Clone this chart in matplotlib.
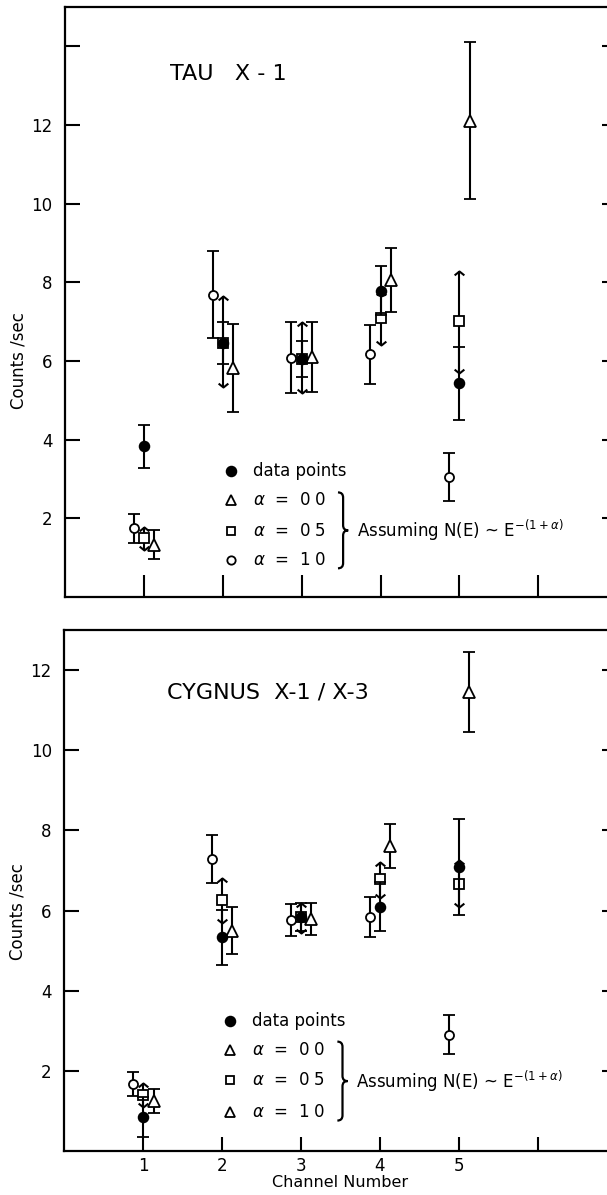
import matplotlib
matplotlib.use('Agg')
import matplotlib.pyplot as plt
from matplotlib.path import Path
from matplotlib.patches import PathPatch
import numpy as np

plt.rcParams['font.family'] = ['DejaVu Sans']

channels = np.array([1, 2, 3, 4, 5])
x_ticks = [1, 2, 3, 4, 5, 6]
x_labels = ['1', '2', '3', '4', '5', '']
y_ticks = [2, 4, 6, 8, 10, 12, 14]
y_labels = ['2', '4', '6', '8', '10', '12', '']

# TAU X-1
tau_data = [3.83, 6.46, 6.05, 7.79, 5.43]
tau_data_err = [0.55, 0.54, 0.45, 0.62, 0.93]
tau_a00 = [1.33, 5.82, 6.10, 8.06, 12.11]
tau_a00_err = [0.37, 1.12, 0.90, 0.82, 2.00]
tau_a05 = [1.49, 6.46, 6.05, 7.10, 7.02]
tau_a05_lo = [1.20, 5.33, 5.19, 6.41, 5.70]
tau_a05_hi = [1.79, 7.65, 7.00, 7.79, 8.28]
tau_a10 = [1.75, 7.69, 6.08, 6.17, 3.05]
tau_a10_err = [0.37, 1.10, 0.90, 0.75, 0.61]

# CYGNUS X-1/X-3
cyg_data = [0.84, 5.33, 5.85, 6.10, 7.09]
cyg_data_err = [0.50, 0.69, 0.35, 0.62, 1.20]
cyg_a00 = [1.25, 5.50, 5.78, 7.61, 11.46]
cyg_a00_err = [0.29, 0.58, 0.40, 0.55, 1.00]
cyg_a05 = [1.40, 6.27, 5.85, 6.78, 6.66]
cyg_a05_lo = [1.11, 5.69, 5.45, 6.32, 6.10]
cyg_a05_hi = [1.69, 6.82, 6.20, 7.20, 7.26]
cyg_a10 = [1.67, 7.28, 5.76, 5.83, 2.90]
cyg_a10_err = [0.30, 0.60, 0.40, 0.50, 0.49]

legend_labels = ['data points', r'$\alpha$  =  0 0', r'$\alpha$  =  0 5', r'$\alpha$  =  1 0']

# open arrow heads for the alpha = 0.5 error bars
up_arrow = [(-1, -0.8), (0, 0), (1, -0.8)]
down_arrow = [(-1, 0.8), (0, 0), (1, 0.8)]


def brace(ax, x, y0, y1, w=0.13):
    ym = (y0 + y1) / 2
    h = 0.13
    verts = [(x, y1), (x + w / 2, y1), (x + w / 2, y1 - h),
             (x + w / 2, ym + h),
             (x + w / 2, ym), (x + w, ym),
             (x + w / 2, ym), (x + w / 2, ym - h),
             (x + w / 2, y0 + h),
             (x + w / 2, y0), (x, y0)]
    codes = [Path.MOVETO, Path.CURVE3, Path.CURVE3, Path.LINETO,
             Path.CURVE3, Path.CURVE3,
             Path.CURVE3, Path.CURVE3, Path.LINETO,
             Path.CURVE3, Path.CURVE3]
    ax.add_patch(PathPatch(Path(verts, codes), fill=False, lw=1.6, color='k'))


def panel(ax, data, data_err, a00, a00_err, a05, a05_lo, a05_hi, a10, a10_err,
          title, title_pos, ytop, leg_y, third_marker):
    eb = dict(color='k', lw=1.5, capsize=4, capthick=1.5, ls='none', mew=1.3)
    ax.errorbar(channels - 0.13, a10, yerr=a10_err, fmt='o', ms=6.5, mfc='white', mec='k', zorder=3, **eb)
    ax.errorbar(channels + 0.13, a00, yerr=a00_err, fmt='^', ms=8.5, mfc='white', mec='k', zorder=3, **eb)
    ax.vlines(channels, a05_lo, a05_hi, color='k', lw=1.5, zorder=2)
    ax.plot(channels, a05_hi, ls='none', marker=up_arrow, ms=7, mfc='none', mec='k', mew=1.5, zorder=2)
    ax.plot(channels, a05_lo, ls='none', marker=down_arrow, ms=7, mfc='none', mec='k', mew=1.5, zorder=2)
    ax.plot(channels, a05, ls='none', marker='s', ms=6.5, mfc='white', mec='k', mew=1.3, zorder=4)
    ax.errorbar(channels, data, yerr=data_err, fmt='o', ms=7, mfc='k', mec='k', zorder=5, **eb)

    ax.text(title_pos[0], title_pos[1], title, fontsize=16, va='center', ha='left')

    # legend drawn by hand, as in the original figure
    markers = [('o', 'k', 7), ('^', 'white', 7.5), ('s', 'white', 6), (third_marker, 'white', 6 if third_marker == 'o' else 7.5)]
    for (m, fc, s), lab, y in zip(markers, legend_labels, leg_y):
        ax.plot([2.1], [y], ls='none', marker=m, ms=s, mfc=fc, mec='k', mew=1.3)
        ax.text(2.38, y, lab, fontsize=12, va='center', ha='left')
    brace(ax, 3.46, leg_y[3] - 0.22, leg_y[1] + 0.2)
    ax.text(3.70, (leg_y[1] + leg_y[3]) / 2 - 0.02, r'Assuming N(E) ~ E$^{-(1+\alpha)}$',
            fontsize=12, va='center', ha='left')

    ax.set_xlim(0, 7)
    ax.set_ylim(0, ytop)
    ax.set_yticks([t for t in y_ticks if t < ytop])
    ax.set_yticklabels([l for t, l in zip(y_ticks, y_labels) if t < ytop])
    ax.set_xticks(x_ticks)
    ax.tick_params(axis='y', direction='in', length=11, width=1.5, labelsize=12, pad=9, right=True)
    ax.tick_params(axis='x', direction='in', width=1.5, labelsize=12)
    for s in ax.spines.values():
        s.set_linewidth(1.6)
    ax.set_ylabel('Counts /sec', fontsize=12)


fig = plt.figure(figsize=(6.07, 11.95), dpi=100)
ax1 = fig.add_axes([0.107, 0.5004, 0.91, 0.4937])
ax2 = fig.add_axes([0.106, 0.0368, 0.91, 0.436])

panel(ax1, tau_data, tau_data_err, tau_a00, tau_a00_err, tau_a05, tau_a05_lo, tau_a05_hi,
      tau_a10, tau_a10_err, 'TAU   X - 1', (1.33, 13.3), 15, [3.2, 2.46, 1.69, 0.95], 'o')
ax1.set_xticklabels([])
ax1.tick_params(axis='x', length=16)
ax1.yaxis.set_label_coords(-0.068, 0.40)

panel(ax2, cyg_data, cyg_data_err, cyg_a00, cyg_a00_err, cyg_a05, cyg_a05_lo, cyg_a05_hi,
      cyg_a10, cyg_a10_err, 'CYGNUS  X-1 / X-3', (1.30, 11.45), 13, [3.25, 2.53, 1.76, 0.98], '^')
ax2.set_xticklabels(x_labels)
ax2.tick_params(axis='x', length=10, pad=4)
ax2.yaxis.set_label_coords(-0.068, 0.46)
ax2.set_xlabel('Channel Number', fontsize=11.5, labelpad=0)

fig.savefig('out.png', dpi=100)
